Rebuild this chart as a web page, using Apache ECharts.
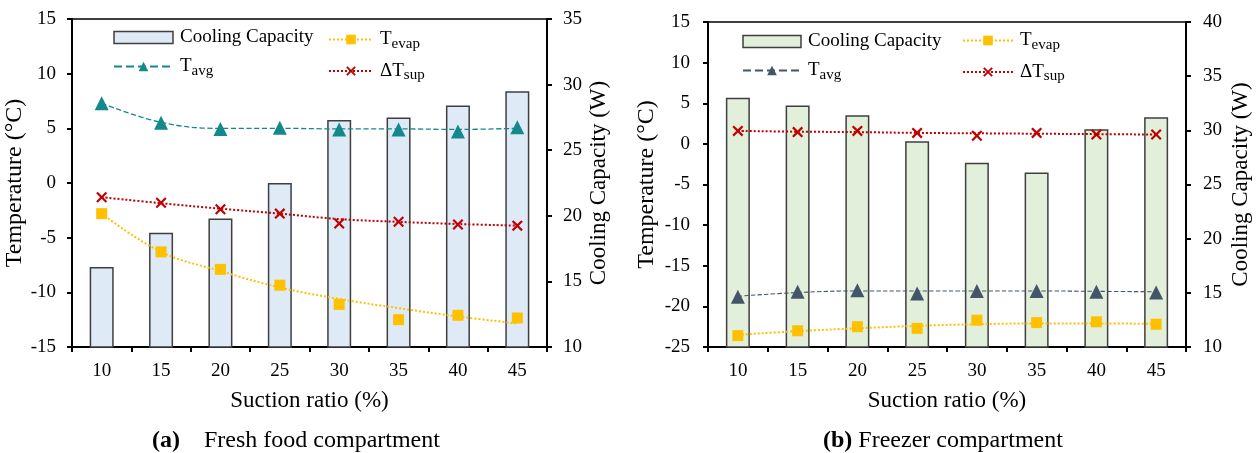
<!DOCTYPE html>
<html>
<head>
<meta charset="utf-8">
<script src="https://cdn.jsdelivr.net/npm/echarts@6/dist/echarts.min.js"></script>
<style>html,body{margin:0;padding:0;background:#fff;}#c{width:1258px;height:453px;}</style>
</head>
<body>
<div id="c"></div>
<script>
// ---- data ----
const categories = ['10', '15', '20', '25', '30', '35', '40', '45'];

// (a) Fresh food compartment
const aCapacity   = [16.1, 18.7, 19.8, 22.5, 27.3, 27.5, 28.4, 29.5];
const aTavg       = [7.3, 5.5, 4.95, 5.05, 4.9, 4.9, 4.7, 5.1];
const aTavgTrend  = [7.3, 5.55, 5.0, 5.0, 4.95, 4.95, 4.9, 5.0];
const aTevap      = [-2.8, -6.3, -7.9, -9.35, -11.1, -12.5, -12.1, -12.35];
const aTevapTrend = [-2.8, -6.3, -8.05, -9.55, -10.6, -11.45, -12.2, -12.85];
const aDTsup      = [-1.3, -1.8, -2.4, -2.8, -3.7, -3.55, -3.8, -3.9];
const aDTsupTrend = [-1.3, -1.85, -2.35, -2.8, -3.3, -3.55, -3.75, -3.9];

// (b) Freezer compartment
const bCapacity   = [33.0, 32.3, 31.4, 29.0, 27.0, 26.1, 30.1, 31.2];
const bTavg       = [-18.8, -18.2, -18.0, -18.4, -18.1, -18.1, -18.2, -18.3];
const bTavgTrend  = [-18.75, -18.3, -18.1, -18.1, -18.1, -18.1, -18.15, -18.2];
const bTevap      = [-23.6, -23.0, -22.5, -22.7, -21.7, -22.0, -21.9, -22.2];
const bTevapTrend = [-23.5, -23.05, -22.7, -22.4, -22.2, -22.1, -22.1, -22.15];
const bDTsup      = [1.6, 1.45, 1.6, 1.35, 1.0, 1.35, 1.15, 1.15];
const bDTsupTrend = [1.6, 1.5, 1.45, 1.35, 1.3, 1.25, 1.2, 1.15];

const legendText = {
  a_cc: 'Cooling Capacity', a_tavg: 'T{s|avg}', a_tevap: 'T{s|evap}', a_dt: 'ΔT{s|sup}',
  b_cc: 'Cooling Capacity', b_tavg: 'T{s|avg}', b_tevap: 'T{s|evap}', b_dt: 'ΔT{s|sup}'
};

// ---- styles ----
const FONT = "'Liberation Serif', 'Times New Roman', serif";
const BLACK = '#000';
const XPATH = 'path://M0,1.4 L1.4,0 L5,3.6 L8.6,0 L10,1.4 L6.4,5 L10,8.6 L8.6,10 L5,6.4 L1.4,10 L0,8.6 L3.6,5 Z';
const C_TEAL = '#13898B', C_SLATE = '#44546A', C_GOLD = '#FFC000', C_RED = '#C00000';

function xAxis(gi) {
  return {
    type: 'category', gridIndex: gi, data: categories,
    axisLine: { onZero: false, lineStyle: { color: BLACK, width: 2 } },
    axisTick: { show: true, length: 5, lineStyle: { color: BLACK, width: 2 } },
    axisLabel: { color: BLACK, fontFamily: FONT, fontSize: 19, margin: 15 },
    name: 'Suction ratio (%)', nameLocation: 'middle', nameGap: 42,
    nameTextStyle: { color: BLACK, fontFamily: FONT, fontSize: 23 }
  };
}
function yAxis(gi, pos, min, max, name, gap, margin, fs) {
  return {
    type: 'value', gridIndex: gi, position: pos, min: min, max: max, interval: 5,
    splitLine: { show: false },
    axisLine: { show: true, onZero: false, lineStyle: { color: BLACK, width: 2 } },
    axisTick: { show: true, length: 5, lineStyle: { color: BLACK, width: 2 } },
    axisLabel: { color: BLACK, fontFamily: FONT, fontSize: 19, margin: margin },
    name: name, nameLocation: 'middle', nameGap: gap, nameRotate: 90,
    nameTextStyle: { color: BLACK, fontFamily: FONT, fontSize: fs }
  };
}
const richLegend = {
  s: { fontFamily: FONT, fontSize: 15, color: BLACK, padding: [9, 0, 0, 0] }
};
function legend(names, left, top, w) {
  return {
    data: names, orient: 'vertical', left: left, top: top,
    itemWidth: w, itemHeight: 12, itemGap: 10,
    formatter: n => legendText[n],
    textStyle: { color: BLACK, fontFamily: FONT, fontSize: 19, padding: [0, 0, 0, 2], rich: richLegend }
  };
}
function bar(name, data, gi, yi, color) {
  return {
    name: name, type: 'bar', xAxisIndex: gi, yAxisIndex: yi, data: data, barWidth: 24,
    itemStyle: { color: color, borderColor: '#3F3F3F', borderWidth: 1.5 }, z: 1
  };
}
function trend(name, data, gi, yi, color, type, width, symbol, ssize) {
  return {
    name: name, type: 'line', xAxisIndex: gi, yAxisIndex: yi, data: data, smooth: 0.4,
    showSymbol: false, symbol: symbol, symbolSize: ssize,
    lineStyle: { color: color, type: type, width: width },
    itemStyle: { color: color }, z: 3
  };
}
function marks(name, data, gi, yi, color, symbol, ssize) {
  return {
    name: name, type: 'scatter', xAxisIndex: gi, yAxisIndex: yi, data: data,
    symbol: symbol, symbolSize: ssize, itemStyle: { color: color, opacity: 1 }, z: 4
  };
}
const capStyle = {
  fontFamily: FONT, fontSize: 24, fontWeight: 'normal', color: BLACK,
  rich: { b: { fontFamily: FONT, fontSize: 24, fontWeight: 'bold', color: BLACK } }
};

const option = {
  animation: false,
  backgroundColor: '#fff',
  title: [
    { text: '{b|(a)}    Fresh food compartment', left: 147, top: 424, textStyle: capStyle },
    { text: '{b|(b)} Freezer compartment', left: 818, top: 424, textStyle: capStyle }
  ],
  grid: [
    { left: 72, right: 711, top: 19, bottom: 106, show: true, borderColor: BLACK, borderWidth: 1.5, backgroundColor: 'transparent' },
    { left: 708, right: 72, top: 22, bottom: 106, show: true, borderColor: BLACK, borderWidth: 1.5, backgroundColor: 'transparent' }
  ],
  xAxis: [xAxis(0), xAxis(1)],
  yAxis: [
    yAxis(0, 'left', -15, 15, 'Temperature (°C)', 38, 16, 24),
    yAxis(0, 'right', 10, 35, 'Cooling Capacity (W)', 40, 16, 23),
    yAxis(1, 'left', -25, 15, 'Temperature (°C)', 49, 18, 24),
    yAxis(1, 'right', 10, 40, 'Cooling Capacity (W)', 43, 17, 23)
  ],
  legend: [
    legend([{ name: 'a_cc', icon: 'rect', itemStyle: { borderColor: '#3F3F3F', borderWidth: 1.5 } }, 'a_tavg'], 108, 23, 59),
    legend(['a_tevap', 'a_dt'], 323, 25, 44),
    legend([{ name: 'b_cc', icon: 'rect', itemStyle: { borderColor: '#3F3F3F', borderWidth: 1.5 } }, 'b_tavg'], 737, 27, 58),
    legend(['b_tevap', 'b_dt'], 957, 26, 50)
  ],
  series: [
    bar('a_cc', aCapacity, 0, 1, '#DEEAF6'),
    trend('a_tavg', aTavgTrend, 0, 0, C_TEAL, 'dashed', 1.3, 'triangle', 12),
    trend('a_tevap', aTevapTrend, 0, 0, C_GOLD, 'dotted', 2, 'rect', 11),
    trend('a_dt', aDTsupTrend, 0, 0, C_RED, 'dotted', 2, XPATH, 11),
    marks('a_tavg_pts', aTavg, 0, 0, C_TEAL, 'triangle', 14),
    marks('a_tevap_pts', aTevap, 0, 0, C_GOLD, 'rect', 11),
    marks('a_dt_pts', aDTsup, 0, 0, C_RED, XPATH, 11),

    bar('b_cc', bCapacity, 1, 3, '#E2EFDA'),
    trend('b_tavg', bTavgTrend, 1, 2, C_SLATE, 'dashed', 1.1, 'triangle', 12),
    trend('b_tevap', bTevapTrend, 1, 2, C_GOLD, 'dotted', 2, 'rect', 11),
    trend('b_dt', bDTsupTrend, 1, 2, C_RED, 'dotted', 2, XPATH, 11),
    marks('b_tavg_pts', bTavg, 1, 2, C_SLATE, 'triangle', 14),
    marks('b_tevap_pts', bTevap, 1, 2, C_GOLD, 'rect', 11),
    marks('b_dt_pts', bDTsup, 1, 2, C_RED, XPATH, 11)
  ]
};
const chart = echarts.init(document.getElementById('c'), null, { renderer: 'canvas' });
chart.setOption(option);
</script>
</body>
</html>
